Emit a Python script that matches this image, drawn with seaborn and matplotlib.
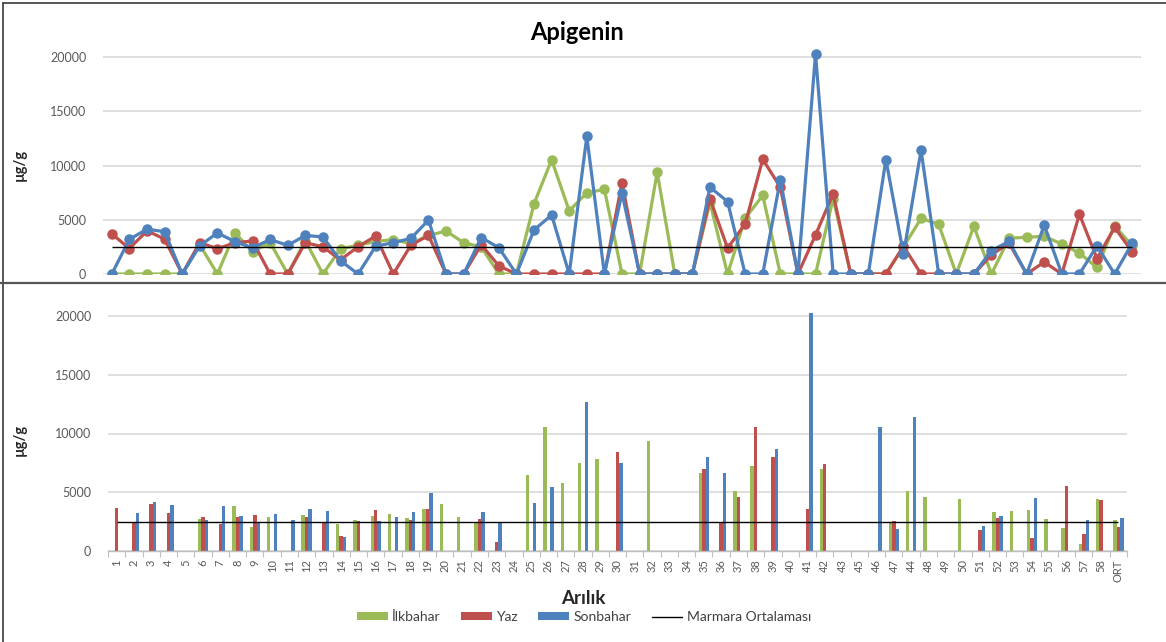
import matplotlib
matplotlib.use("Agg")
import matplotlib.pyplot as plt
from matplotlib.lines import Line2D
from matplotlib.patches import Patch
import numpy as np
import pandas as pd
import seaborn as sns

# Station codes along the x axis (ORT = overall average)
categories = [str(i) for i in range(1, 44)] + ["45", "46", "47", "44"] + \
             [str(i) for i in range(48, 59)] + ["ORT"]

# Apigenin concentrations (µg/g) per season
ilkbahar = [0, 0, 0, 0, 0, 2700, 0, 3800, 2050, 2900,
            0, 3080, 0, 2330, 2650, 3000, 3170, 2800, 3550, 3960,
            2880, 2500, 0, 0, 6480, 10520, 5820, 7480, 7800, 0,
            0, 9380, 0, 0, 6600, 0, 5130, 7240, 0, 0,
            0, 6950, 0, 0, 0, 2500, 5130, 4580, 0, 4400,
            0, 3300, 3380, 3480, 2760, 1920, 600, 4450, 2600]
yaz = [3700, 2350, 3980, 3220, 0, 2900, 2330, 2880, 3050, 0,
       0, 2890, 2500, 1300, 2520, 3500, 0, 2650, 3550, 0,
       0, 2700, 750, 0, 0, 0, 0, 0, 0, 8420,
       0, 0, 0, 0, 6950, 2380, 4620, 10570, 8000, 0,
       3590, 7400, 0, 0, 0, 2560, 0, 0, 0, 0,
       1770, 2850, 0, 1110, 0, 5500, 1420, 4300, 2030]
sonbahar = [0, 3200, 4130, 3900, 0, 2600, 3790, 2980, 2400, 3180,
            2640, 3550, 3420, 1220, 0, 2560, 2890, 3280, 4970, 0,
            0, 3360, 2420, 0, 4060, 5430, 0, 12680, 0, 7450,
            0, 0, 0, 0, 8000, 6680, 0, 0, 8700, 0,
            20280, 0, 0, 0, 10550, 1830, 11410, 0, 0, 0,
            2160, 3000, 0, 4500, 0, 0, 2600, 0, 2830]
marmara_avg = 2480

seasons = ["İlkbahar", "Yaz", "Sonbahar"]
palette = {"İlkbahar": "#9BBB59", "Yaz": "#C0504D", "Sonbahar": "#4F81BD"}

df = pd.DataFrame({
    "Arılık": categories * 3,
    "µg/g": ilkbahar + yaz + sonbahar,
    "Mevsim": [s for s in seasons for _ in categories],
})

sns.set_theme(style="white")
plt.rcParams["font.family"] = ["Lato", "DejaVu Sans"]

W, H = 1166, 642
fig = plt.figure(figsize=(W / 100, H / 100), dpi=100)
fig.patch.set_facecolor("white")

text_col = "#595959"
grid_col = "#D9D9D9"
ymax = 21000
yticks = [0, 5000, 10000, 15000, 20000]

# ---- upper panel: line chart with markers ----
top_l, top_r, top_zero, top_20k = 103, 1141, 274, 57
top_h_px = (top_zero - top_20k) * ymax / 20000
ax1 = fig.add_axes([top_l / W, (H - top_zero) / H, (top_r - top_l) / W, top_h_px / H])
sns.pointplot(data=df, x="Arılık", y="µg/g", hue="Mevsim", order=categories,
              hue_order=seasons, palette=palette, errorbar=None, markers="o",
              linestyles="-", markersize=5.8, linewidth=2.3, legend=False, ax=ax1)
ax1.hlines(marmara_avg, 0, len(categories) - 1, color="black", lw=1.0, zorder=10)
ax1.set_xlim(-0.5, len(categories) - 0.5)
ax1.set_ylim(0, ymax)
ax1.set_yticks(yticks)
ax1.set_yticklabels([str(v) for v in yticks])
ax1.yaxis.grid(True, color=grid_col, lw=1.2)
ax1.set_axisbelow(True)
ax1.tick_params(axis="x", length=0, labelbottom=False)
ax1.tick_params(axis="y", length=0, pad=12, labelsize=9, labelcolor=text_col)
ax1.set_xlabel("")
ax1.set_ylabel("µg/g", fontsize=10.5, fontweight="bold", color="#262626")
ax1.yaxis.set_label_coords((27 - top_l) / (top_r - top_l), (top_zero - 165) / top_h_px)
for s in ax1.spines.values():
    s.set_visible(False)

# ---- lower panel: grouped bar chart ----
bot_l, bot_r, bot_zero, bot_20k = 108, 1127, 551, 316
bot_h_px = (bot_zero - bot_20k) * ymax / 20000
ax2 = fig.add_axes([bot_l / W, (H - bot_zero) / H, (bot_r - bot_l) / W, bot_h_px / H])
sns.barplot(data=df, x="Arılık", y="µg/g", hue="Mevsim", order=categories,
            hue_order=seasons, palette=palette, errorbar=None, width=0.6,
            saturation=1, linewidth=0, legend=False, ax=ax2)
ax2.hlines(marmara_avg, 0, len(categories) - 1, color="black", lw=1.0, zorder=10)
ax2.set_xlim(-0.5, len(categories) - 0.5)
ax2.set_ylim(0, ymax)
ax2.set_yticks(yticks)
ax2.set_yticklabels([str(v) for v in yticks])
ax2.yaxis.grid(True, color=grid_col, lw=1.2)
ax2.set_axisbelow(True)
ax2.set_xticks(range(len(categories)))
ax2.set_xticklabels(categories, rotation=90)
ax2.set_xticks(np.arange(-0.5, len(categories)), minor=True)
ax2.tick_params(axis="x", which="major", length=0, pad=6, labelsize=8, labelcolor=text_col)
ax2.tick_params(axis="x", which="minor", length=4, width=0.8, color="#BFBFBF", bottom=True)
ax2.tick_params(axis="y", length=0, pad=12, labelsize=9, labelcolor=text_col)
ax2.set_xlabel("")
ax2.set_ylabel("µg/g", fontsize=10.5, fontweight="bold", color="#262626")
ax2.yaxis.set_label_coords((27 - bot_l) / (bot_r - bot_l), (bot_zero - 440) / bot_h_px)
for name, s in ax2.spines.items():
    s.set_visible(name == "bottom")
ax2.spines["bottom"].set_color("#BFBFBF")
ax2.spines["bottom"].set_linewidth(1.0)

# ---- titles, legend, frame ----
fig.text(577 / W, 1 - 33 / H, "Apigenin", ha="center", va="center",
         fontsize=17, fontweight="bold", color="black")
fig.text(583 / W, 1 - 598 / H, "Arılık", ha="center", va="center",
         fontsize=13.5, fontweight="bold", color="#262626")

handles = [Patch(facecolor=palette[s], edgecolor="none") for s in seasons] + \
          [Line2D([], [], color="black", lw=1.0)]
labels = seasons + ["Marmara Ortalaması"]
fig.legend(handles, labels, loc="center", bbox_to_anchor=(584 / W, 1 - 617 / H),
           ncol=4, frameon=False, fontsize=10, handlelength=2.2, handleheight=0.45,
           columnspacing=1.5, handletextpad=0.3, labelcolor="#404040")

frame_col = "#3A3A3A"
fig.add_artist(Line2D([3 / W, 1], [1 - 3 / H, 1 - 3 / H], transform=fig.transFigure,
                      color=frame_col, lw=1.2))
fig.add_artist(Line2D([3 / W, 3 / W], [0, 1 - 3 / H], transform=fig.transFigure,
                      color=frame_col, lw=1.2))
fig.add_artist(Line2D([0, 1], [1 - 283 / H, 1 - 283 / H], transform=fig.transFigure,
                      color="#555555", lw=1.6))

fig.savefig("out.png", dpi=100, facecolor="white")
